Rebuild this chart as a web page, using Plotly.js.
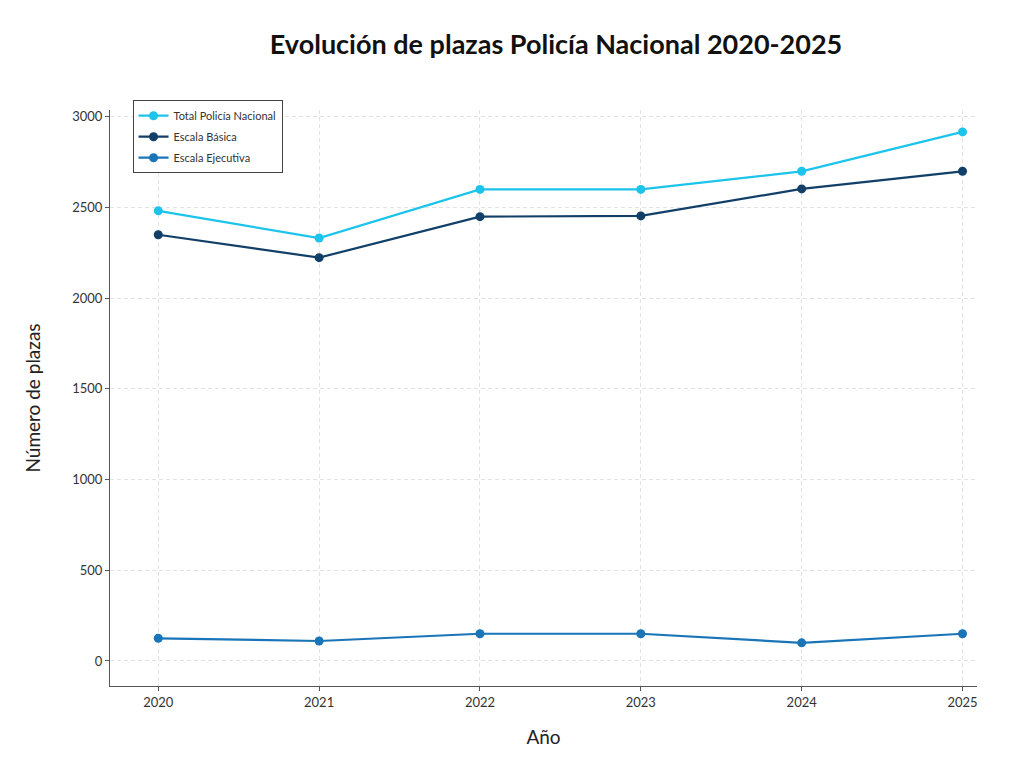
<!DOCTYPE html>
<html>
<head>
<meta charset="utf-8">
<script src="https://cdn.plot.ly/plotly-3.0.1.min.js"></script>
<style>html,body{margin:0;padding:0;background:#fff;}#chart{width:1024px;height:778px;}</style>
</head>
<body>
<div id="chart"></div>
<script>
const years = [2020, 2021, 2022, 2023, 2024, 2025];
const totalPolicia = [2482, 2332, 2600, 2600, 2700, 2917];
const escalaBasica = [2350, 2224, 2450, 2454, 2603, 2700];
const escalaEjecutiva = [125, 110, 150, 150, 100, 150];
const seriesNames = ['Total Policía Nacional', 'Escala Básica', 'Escala Ejecutiva'];
const seriesColors = ['#1cc4ec', '#123f68', '#1a74b8'];
const yTicks = [0, 500, 1000, 1500, 2000, 2500, 3000];

const font = 'Lato, "Open Sans", sans-serif';
const data = [totalPolicia, escalaBasica, escalaEjecutiva].map((vals, i) => ({
  x: years, y: vals, name: seriesNames[i], type: 'scatter', mode: 'lines+markers',
  legendgroup: 'g' + i,
  line: {color: seriesColors[i], width: 2.2},
  marker: {color: seriesColors[i], size: 9}
}));

const layout = {
  width: 1024, height: 778,
  paper_bgcolor: '#fff', plot_bgcolor: '#fff',
  margin: {l: 110, r: 47, t: 110, b: 92},
  title: {text: '<b>Evolución de plazas Policía Nacional 2020-2025</b>', x: 0.543, xanchor: 'center', y: 0.943, yanchor: 'middle',
    font: {family: font, size: 27, color: '#111'}},
  showlegend: true,
  legend: {x: 0.026, y: 1.017, xanchor: 'left', yanchor: 'top', bgcolor: '#fff', bordercolor: '#444', borderwidth: 1,
    font: {family: font, size: 11, color: '#333'}, tracegroupgap: 2, itemwidth: 30},
  xaxis: {
    range: [2019.70, 2025.09], tickvals: years, ticktext: years.map(String),
    showline: true, linecolor: '#555', linewidth: 1, ticks: 'outside', ticklen: 4, tickcolor: '#555',
    showgrid: true, gridcolor: '#e3e3e3', griddash: '4px,3px', gridwidth: 1, zeroline: false,
    tickfont: {family: font, size: 13, color: '#333'},
    title: {text: 'Año', font: {family: font, size: 19, color: '#222'}, standoff: 22}
  },
  yaxis: {
    range: [-138, 3038], tickvals: yTicks, ticktext: yTicks.map(String),
    showline: true, linecolor: '#555', linewidth: 1, ticks: 'outside', ticklen: 4, tickcolor: '#555',
    showgrid: true, gridcolor: '#e3e3e3', griddash: '4px,3px', gridwidth: 1, zeroline: false,
    tickfont: {family: font, size: 13, color: '#333'},
    title: {text: 'Número de plazas', font: {family: font, size: 19, color: '#222'}, standoff: 26}
  }
};
Plotly.newPlot('chart', data, layout, {displayModeBar: false, staticPlot: true});
</script>
</body>
</html>
